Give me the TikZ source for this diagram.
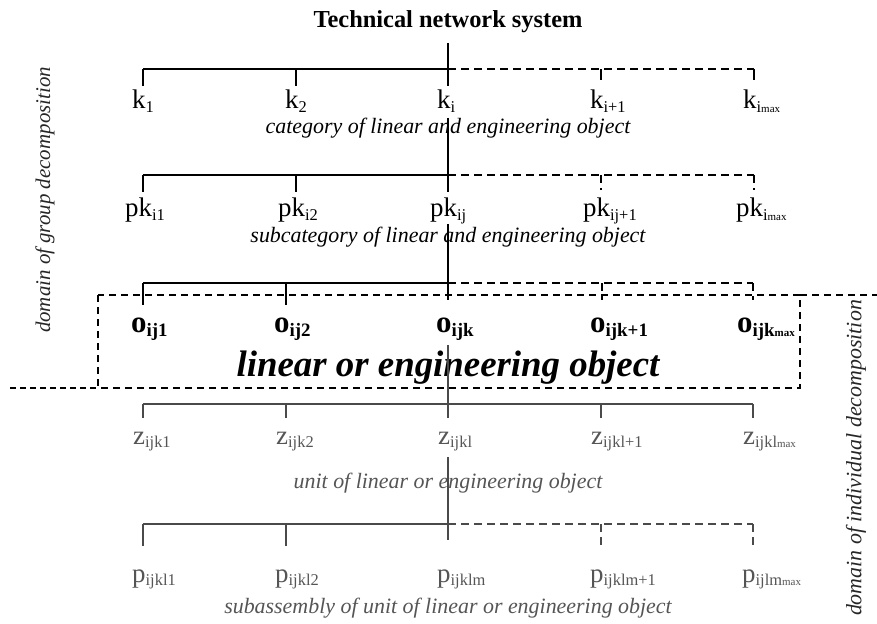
\documentclass[tikz,border=0pt]{standalone}
\usepackage{fontspec}
\setmainfont{Liberation Serif}
\newcommand\fsz[1]{\fontsize{#1}{#1}\selectfont}
\newcommand\sbx[2][16.5]{\raisebox{-0.14em}{\fsz{#1}#2}}
\newcommand\mx[1][11]{{\fsz{#1}max}}
\definecolor{lowgray}{HTML}{4A4A4A}
\definecolor{lowtext}{HTML}{555555}
\begin{document}
\begin{tikzpicture}[x=1bp,y=-1bp,
  lbl/.style={anchor=base west,inner sep=0pt,font=\fsz{27}},
  olbl/.style={anchor=base west,inner sep=0pt,font=\fsz{31}\bfseries},
  cat/.style={anchor=base,inner sep=0pt,font=\fsz{22}\itshape},
  side/.style={anchor=center,inner sep=0pt,rotate=90},
  ln/.style={line width=1.6bp},
  dln/.style={line width=1.6bp,dash pattern=on 8bp off 5bp},
  trunk/.style={line width=2.2bp},
  boxln/.style={line width=2bp,dash pattern=on 7bp off 5bp}]
\useasboundingbox (0,0) rectangle (877,624);

% title
\node[anchor=base,inner sep=0pt,font=\fsz{24.5}\bfseries] (title) at (448,28) {Technical network system};

% ---------- level 1
\draw[trunk] (448,43) -- (448,86);
\draw[ln] (143,69) -- (448,69);
\draw[dln] (448,69) -- (754,69);
\draw[ln] (143,69) -- (143,86);
\draw[ln] (296,69) -- (296,86);
\draw[ln] (601,69) -- (601,80);
\draw[ln] (754,69) -- (754,80);
\node[lbl] (k1) at (132,109) {k\sbx{1}};
\node[lbl] (k2) at (285,109) {k\sbx{2}};
\node[lbl] (ki) at (437,109) {k\sbx{i}};
\node[lbl] (ki1) at (590,109) {k\sbx{i+1}};
\node[lbl] (kimax) at (743,109) {k\sbx{i\mx}};
\node[cat] (cat1) at (448,134) {category of linear and engineering object};

% ---------- level 2
\draw[trunk] (448,118) -- (448,192);
\draw[ln] (143,175) -- (448,175);
\draw[dln] (448,175) -- (754,175);
\draw[ln] (143,175) -- (143,192);
\draw[ln] (296,175) -- (296,192);
\draw[dln] (601,175) -- (601,190);
\draw[dln] (754,175) -- (754,190);
\node[lbl] (pk1) at (125,217) {pk\sbx{i1}};
\node[lbl] (pk2) at (278,217) {pk\sbx{i2}};
\node[lbl] (pkij) at (430,217) {pk\sbx{ij}};
\node[lbl] (pkij1) at (583,217) {pk\sbx{ij+1}};
\node[lbl] (pkimax) at (736,217) {pk\sbx{i\mx}};
\node[cat] (cat2) at (448,243) {subcategory of linear and engineering object};

% ---------- level 3
\draw[trunk] (448,224) -- (448,300);
\draw[ln] (143,283) -- (448,283);
\draw[dln] (448,283) -- (753,283);
\draw[ln] (143,283) -- (143,305);
\draw[ln] (286,283) -- (286,305);
\draw[dln] (602,283) -- (602,300);
\draw[dln] (753,283) -- (753,300);

% domain box
\draw[boxln] (98,295) rectangle (800,388);
\draw[boxln] (800,295) -- (877,295);
\draw[line width=1.2bp,dash pattern=on 6bp off 4bp] (10,388) -- (98,388);

\node[olbl] (o1) at (131,332) {o\sbx[19]{ij1}};
\node[olbl] (o2) at (274,332) {o\sbx[19]{ij2}};
\node[olbl] (ok) at (436,332) {o\sbx[19]{ijk}};
\node[olbl] (ok1) at (590,332) {o\sbx[19]{ijk+1}};
\node[olbl] (okmax) at (737,332) {o\sbx[19]{ijk\mx[11]}};
\node[anchor=base,inner sep=0pt,font=\fsz{37}\bfseries\itshape] (obj) at (448,376) {linear or engineering object};

% ---------- level 4
\begin{scope}[lowgray]
\draw[ln] (448,345) -- (448,418);
\draw[ln] (143,404) -- (753,404);
\foreach \x in {143,286,601,753} \draw[ln] (\x,404) -- (\x,418);
\end{scope}
\begin{scope}[lowtext]
\node[lbl] (z1) at (133,444) {z\sbx{ijk1}};
\node[lbl] (z2) at (276,444) {z\sbx{ijk2}};
\node[lbl] (zl) at (438,444) {z\sbx{ijkl}};
\node[lbl] (zl1) at (591,444) {z\sbx{ijkl+1}};
\node[lbl] (zlmax) at (743,444) {z\sbx{ijkl\mx}};
\node[cat] (cat3) at (448,488) {unit of linear or engineering object};
\end{scope}

% ---------- level 5
\begin{scope}[lowgray]
\draw[trunk] (448,457) -- (448,540);
\draw[ln] (143,524) -- (448,524);
\draw[dln] (448,524) -- (753,524);
\draw[ln] (143,524) -- (143,546);
\draw[ln] (286,524) -- (286,546);
\draw[dln] (601,524) -- (601,546);
\draw[dln] (753,524) -- (753,546);
\end{scope}
\begin{scope}[lowtext]
\node[lbl] (p1) at (132,582) {p\sbx{ijkl1}};
\node[lbl] (p2) at (275,582) {p\sbx{ijkl2}};
\node[lbl] (pm) at (437,582) {p\sbx{ijklm}};
\node[lbl] (pm1) at (590,582) {p\sbx{ijklm+1}};
\node[lbl] (pmmax) at (742,582) {p\sbx{ijlm\mx}};
\node[cat] (cat4) at (448,613) {subassembly of unit of linear or engineering object};
\end{scope}

% side labels
\node[side,text=black!85,font=\fsz{21}\itshape] (group) at (45,200) {domain of group decomposition};
\node[side,text=black!85,font=\fsz{22}\itshape] (indiv) at (856,458) {domain of individual decomposition};
\end{tikzpicture}
\end{document}
